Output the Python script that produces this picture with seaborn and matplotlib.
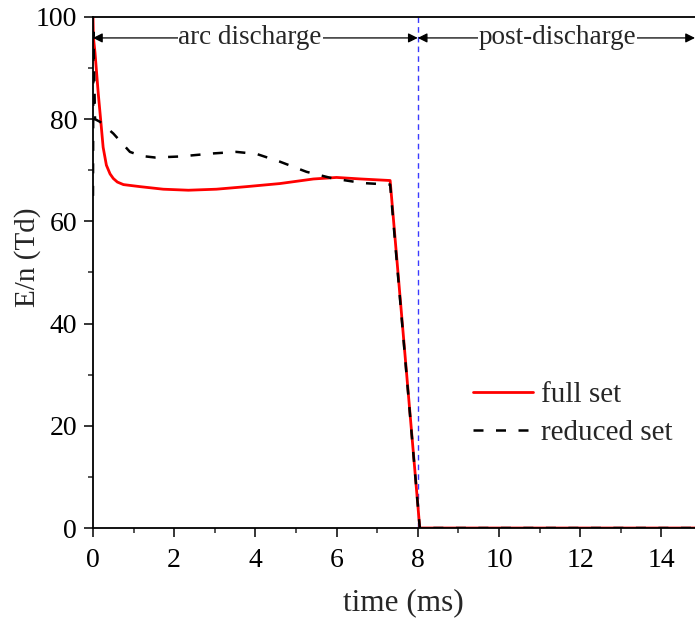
import numpy as np
import pandas as pd
import seaborn as sns
import matplotlib.pyplot as plt
from matplotlib.ticker import MultipleLocator

# E/n vs time
full_t = [0, 0.01, 0.05, 0.13, 0.19, 0.25, 0.33, 0.42, 0.5, 0.6, 0.75, 1.16,
          1.73, 2.35, 3.04, 3.78, 4.6, 5.43, 6.0, 6.6, 7.32, 8.05, 15]
full_E = [100, 96, 93, 85, 79.8, 74.5, 71.0, 69.3, 68.4, 67.7, 67.2, 66.8,
          66.3, 66.1, 66.3, 66.8, 67.4, 68.3, 68.6, 68.3, 68.0, 0, 0]

reduced_t = [0, 0.01, 0.05, 0.17, 0.5, 0.91, 1.2, 1.53, 2.14, 2.96, 3.53, 4.03,
             4.6, 5.26, 5.91, 6.65, 7.32, 8.05, 15]
reduced_E = [65, 97, 80, 79.5, 77.2, 73.6, 72.8, 72.5, 72.7, 73.3, 73.6, 73.2,
             71.7, 69.7, 68.4, 67.5, 67.2, 0, 0]

t_switch = 8.0
phase_labels = ['arc discharge', 'post-discharge']

df_full = pd.DataFrame({'t': full_t, 'E': full_E})
df_red = pd.DataFrame({'t': reduced_t, 'E': reduced_E})

sns.set_theme(style='ticks')
plt.rcParams['font.family'] = ['Liberation Serif', 'DejaVu Serif']

fig = plt.figure(figsize=(6.95, 6.22), dpi=100)
ax = fig.add_axes([0.1338, 0.1511, 0.8662, 0.8216])

sns.lineplot(data=df_full, x='t', y='E', ax=ax, color='#ff0000', lw=2.0,
             estimator=None, sort=False, label='full set')
sns.lineplot(data=df_red, x='t', y='E', ax=ax, color='black', lw=1.8,
             estimator=None, sort=False, label='reduced set', dashes=False)
ax.lines[-1].set_dashes((4, 5))

ax.axvline(t_switch, color='#3a3aff', lw=1.0, ls=(0, (4, 3)), zorder=1)

xmax = 14.83
ax.set_xlim(0, xmax)
ax.set_ylim(0, 100)

# double arrows with labels
y_arr = 95.9
ax.annotate('', xy=(0, y_arr), xytext=(t_switch, y_arr),
            arrowprops=dict(arrowstyle='<|-|>', color='black', lw=0.9,
                            mutation_scale=14, shrinkA=0, shrinkB=0))
ax.annotate('', xy=(t_switch, y_arr), xytext=(xmax, y_arr),
            arrowprops=dict(arrowstyle='<|-|>', color='black', lw=0.9,
                            mutation_scale=14, shrinkA=0, shrinkB=0),
            annotation_clip=False)
ax.text(3.87, y_arr, phase_labels[0], ha='center', va='center', fontsize=19.5,
        bbox=dict(facecolor='white', edgecolor='none', pad=0.5))
ax.text(11.45, y_arr, phase_labels[1], ha='center', va='center', fontsize=19.5,
        bbox=dict(facecolor='white', edgecolor='none', pad=0.5))

ax.xaxis.set_major_locator(MultipleLocator(2))
ax.xaxis.set_minor_locator(MultipleLocator(1))
ax.yaxis.set_major_locator(MultipleLocator(20))
ax.yaxis.set_minor_locator(MultipleLocator(10))
ax.tick_params(which='major', direction='out', length=6.5, width=1.1,
               labelsize=20, colors='black')
ax.tick_params(which='minor', direction='out', length=3.6, width=1.1)
ax.tick_params(axis='x', which='major', pad=8)
ax.tick_params(axis='y', which='major', pad=5)

for side in ['left', 'bottom', 'top']:
    ax.spines[side].set_linewidth(1.3)
    ax.spines[side].set_color('black')
ax.spines['right'].set_visible(False)

ax.set_xlabel('time (ms)', fontsize=22.5, va='top')
ax.set_ylabel('E/n (Td)', fontsize=21)
ax.xaxis.set_label_coords(0.515, -0.117)
ax.yaxis.set_label_coords(-0.087, 0.53)

ax.legend(loc='upper left', bbox_to_anchor=(0.588, 0.338), frameon=False,
          fontsize=21, handlelength=2.05, handletextpad=0.28, labelspacing=0.4,
          borderpad=0.4)

fig.savefig('out.png', dpi=100)
